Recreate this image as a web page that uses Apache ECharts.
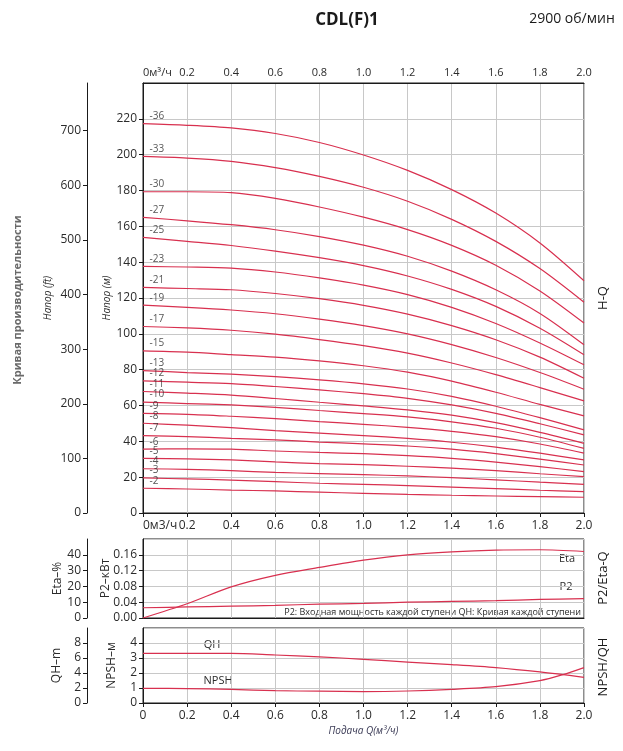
<!DOCTYPE html>
<html>
<head>
<meta charset="utf-8">
<script src="https://cdn.jsdelivr.net/npm/echarts@6.0.0/dist/echarts.min.js"></script>
<style>
  html, body { margin: 0; padding: 0; background: #fff; }
  #chart { width: 623px; height: 751px; }
</style>
</head>
<body>
<div id="chart"></div>
<script>
// подача, м3/ч
const flow = [0, 0.2, 0.4, 0.6, 0.8, 1.0, 1.2, 1.4, 1.6, 1.8, 2.0];
const stages = [2, 3, 4, 5, 6, 7, 8, 9, 10, 11, 12, 13, 15, 17, 19, 21, 23, 25, 27, 30, 33, 36];

// напор по числу ступеней, м
const h2 = [13.8, 13.4, 12.8, 12.3, 11.6, 11.0, 10.4, 9.9, 9.5, 9.1, 8.8];
const h3 = [19.6, 19.0, 18.4, 17.5, 16.6, 16.0, 15.3, 14.4, 13.6, 12.7, 11.9];
const h4 = [24.7, 24.4, 23.6, 22.7, 22.0, 21.4, 20.7, 19.7, 18.5, 17.2, 16.0];
const h5 = [30.5, 30.2, 29.6, 28.5, 27.6, 27.0, 26.1, 25.0, 23.6, 21.9, 20.3];
const h6 = [35.6, 35.8, 35.6, 34.6, 33.8, 33.1, 32.0, 30.5, 28.4, 25.9, 23.1];
const h7 = [43.2, 42.6, 41.7, 40.8, 39.6, 38.6, 37.4, 35.6, 33.1, 30.1, 26.8];
const h8 = [50.1, 49.0, 47.7, 46.0, 44.6, 43.2, 41.6, 39.5, 36.8, 33.4, 29.6];
const h9 = [55.6, 55.1, 54.0, 52.7, 51.0, 49.5, 47.8, 45.6, 42.6, 38.5, 33.4];
const h10 = [61.9, 61.1, 60.3, 59.0, 57.2, 55.5, 53.6, 50.9, 47.3, 42.3, 36.1];
const h11 = [67.8, 66.9, 65.8, 63.9, 61.8, 59.8, 57.6, 54.6, 50.4, 45.0, 38.9];
const h12 = [73.7, 73.0, 72.2, 70.6, 68.7, 66.6, 64.0, 60.3, 55.6, 49.8, 43.6];
const h13 = [79.5, 78.4, 77.5, 76.1, 74.3, 72.1, 69.2, 65.1, 59.6, 53.2, 46.4];
const h15 = [90.5, 89.8, 88.4, 87.0, 84.9, 82.2, 78.6, 73.6, 67.4, 60.6, 54.2];
const h17 = [104.1, 103.3, 102.0, 99.8, 96.8, 93.4, 89.2, 83.7, 77.2, 70.0, 62.6];
const h19 = [116.0, 114.8, 113.3, 111.2, 108.2, 104.6, 100.0, 94.0, 86.8, 78.4, 69.1];
const h21 = [125.9, 125.3, 124.6, 122.5, 119.6, 115.9, 111.0, 104.6, 96.7, 87.0, 75.2];
const h23 = [137.6, 137.3, 136.7, 134.5, 131.2, 127.2, 121.9, 114.8, 105.8, 94.9, 82.7];
const h25 = [153.8, 151.6, 149.3, 146.2, 142.5, 138.1, 132.3, 124.8, 115.3, 103.1, 88.3];
const h27 = [165.0, 163.1, 160.9, 158.1, 154.3, 149.5, 143.3, 135.0, 124.6, 111.4, 93.9];
const h30 = [179.3, 179.3, 178.8, 175.6, 170.8, 165.1, 158.2, 149.4, 138.3, 123.9, 106.0];
const h33 = [199.0, 198.1, 196.3, 192.8, 187.9, 181.8, 174.0, 163.9, 151.6, 136.4, 117.6];
const h36 = [217.3, 216.4, 214.9, 211.8, 206.8, 199.8, 191.2, 180.5, 167.4, 150.7, 129.6];

const heads = {
  2: h2, 3: h3, 4: h4, 5: h5, 6: h6, 7: h7, 8: h8, 9: h9, 10: h10, 11: h11, 12: h12,
  13: h13, 15: h15, 17: h17, 19: h19, 21: h21, 23: h23, 25: h25, 27: h27, 30: h30, 33: h33, 36: h36
};

// КПД, %, и мощность одной ступени, кВт
const eta = [0, 9.0, 19.7, 27.0, 32.0, 36.6, 40.0, 41.9, 43.0, 43.2, 42.1];
const p2 = [0.026, 0.028, 0.030, 0.032, 0.035, 0.037, 0.040, 0.042, 0.044, 0.047, 0.049];

// напор одной ступени, м, и NPSH, м
const qh = [6.62, 6.62, 6.62, 6.40, 6.16, 5.82, 5.46, 5.12, 4.72, 4.14, 3.42];
const npshFlow = [0, 0.2, 0.4, 0.6, 0.8, 1.0, 1.2, 1.4, 1.6, 1.8, 1.9, 2.0];
const npsh = [0.98, 0.96, 0.91, 0.82, 0.79, 0.76, 0.80, 0.91, 1.09, 1.49, 1.87, 2.36];

const FT_PER_M = 3.28084;
const feetTicks = [0, 100, 200, 300, 400, 500, 600, 700];

const RED = '#d8304f';
const GRID = '#c8c8c8';
const INK = '#2b2b2b';
const FONT = '"Open Sans", sans-serif';

const chart = echarts.init(document.getElementById('chart'));

const gridBox = {
  left: 143, right: 39, show: true, borderColor: '#1a1a1a', borderWidth: 1,
  containLabel: false, outerBoundsMode: 'none'
};

const axisBase = {
  axisLine: { show: true, onZero: false, lineStyle: { color: '#1a1a1a', width: 1 } },
  axisTick: { show: true, length: 4, lineStyle: { color: '#1a1a1a' } },
  axisLabel: { color: INK, fontSize: 12, fontFamily: FONT, margin: 6 },
  splitLine: { show: false },
  nameMoveOverlap: false,
  nameTextStyle: { color: INK, fontFamily: FONT, fontSize: 12 }
};

function xFmt(unit) {
  return v => (v === 0 ? '0' + unit : v.toFixed(1));
}

const xAxes = [
  Object.assign({}, axisBase, {
    type: 'value', gridIndex: 0, position: 'bottom', min: 0, max: 2, interval: 0.2,
    axisLabel: Object.assign({}, axisBase.axisLabel, {
      formatter: xFmt('м3/ч'), alignMinLabel: 'left', showMinLabel: true, margin: 7
    }),
    splitLine: { show: true, lineStyle: { color: GRID } }
  }),
  Object.assign({}, axisBase, {
    type: 'value', gridIndex: 0, position: 'top', min: 0, max: 2, interval: 0.2,
    axisTick: { show: false },
    axisLabel: Object.assign({}, axisBase.axisLabel, {
      formatter: xFmt('м³/ч'), alignMinLabel: 'left', showMinLabel: true, fontSize: 11, margin: 5
    })
  }),
  Object.assign({}, axisBase, {
    type: 'value', gridIndex: 1, min: 0, max: 2, interval: 0.2,
    axisTick: { show: false }, axisLabel: { show: false },
    splitLine: { show: true, lineStyle: { color: GRID } }
  }),
  Object.assign({}, axisBase, {
    type: 'value', gridIndex: 2, min: 0, max: 2, interval: 0.2,
    axisLabel: Object.assign({}, axisBase.axisLabel, {
      formatter: v => (v === 0 ? '0' : v.toFixed(1)), showMinLabel: true, margin: 7
    }),
    splitLine: { show: true, lineStyle: { color: GRID } },
    name: 'Подача Q(м³/ч)', nameLocation: 'middle', nameGap: 23,
    nameTextStyle: { color: '#3a3a55', fontFamily: FONT, fontSize: 10, fontStyle: 'italic' }
  })
];

const yAxes = [
  Object.assign({}, axisBase, {
    type: 'value', gridIndex: 0, position: 'left', min: 0, max: 240, interval: 20,
    axisLabel: Object.assign({}, axisBase.axisLabel, { showMaxLabel: false }),
    splitLine: { show: true, lineStyle: { color: GRID } },
    name: 'Напор (м)', nameLocation: 'middle', nameGap: 31,
    nameTextStyle: { color: INK, fontFamily: FONT, fontSize: 10, fontStyle: 'italic' }
  }),
  Object.assign({}, axisBase, {
    type: 'value', gridIndex: 0, position: 'left', min: 0, max: 240 * FT_PER_M, offset: 56,
    axisLabel: Object.assign({}, axisBase.axisLabel, { customValues: feetTicks }),
    axisTick: Object.assign({}, axisBase.axisTick, { customValues: feetTicks }),
    name: 'Напор (ft)', nameLocation: 'middle', nameGap: 34,
    nameTextStyle: { color: INK, fontFamily: FONT, fontSize: 10, fontStyle: 'italic' }
  }),
  Object.assign({}, axisBase, {
    type: 'value', gridIndex: 1, position: 'left', min: 0, max: 0.2, interval: 0.04,
    axisLabel: Object.assign({}, axisBase.axisLabel, { showMaxLabel: false, formatter: v => v.toFixed(2) }),
    splitLine: { show: true, lineStyle: { color: GRID } },
    name: 'P2–кВт', nameLocation: 'middle', nameGap: 31
  }),
  Object.assign({}, axisBase, {
    type: 'value', gridIndex: 1, position: 'left', min: 0, max: 50, interval: 10, offset: 56,
    axisLabel: Object.assign({}, axisBase.axisLabel, { showMaxLabel: false }),
    name: 'Eta–%', nameLocation: 'middle', nameGap: 23
  }),
  Object.assign({}, axisBase, {
    type: 'value', gridIndex: 2, position: 'left', min: 0, max: 5, interval: 1,
    axisLabel: Object.assign({}, axisBase.axisLabel, { showMaxLabel: false }),
    splitLine: { show: true, lineStyle: { color: GRID } },
    name: 'NPSH–м', nameLocation: 'middle', nameGap: 25
  }),
  Object.assign({}, axisBase, {
    type: 'value', gridIndex: 2, position: 'left', min: 0, max: 10, interval: 2, offset: 56,
    axisLabel: Object.assign({}, axisBase.axisLabel, { showMaxLabel: false }),
    name: 'QH–m', nameLocation: 'middle', nameGap: 24
  })
];

function curve(xs, ys, xi, yi) {
  return {
    type: 'line', xAxisIndex: xi, yAxisIndex: yi,
    data: xs.map((x, i) => [x, ys[i]]),
    smooth: 0.3, showSymbol: false, symbol: 'none', silent: true,
    lineStyle: { color: RED, width: 1.2 }, z: 3
  };
}

const series = stages.map(n => curve(flow, heads[n], 0, 0));

// подписи числа ступеней у начала каждой кривой
series.push({
  type: 'scatter', xAxisIndex: 0, yAxisIndex: 0, silent: true,
  symbolSize: 1, itemStyle: { color: 'rgba(0,0,0,0)' },
  data: stages.map(n => [0, heads[n][0], n]),
  label: {
    show: true, position: [7, -12], color: INK, fontSize: 10, fontFamily: FONT,
    formatter: p => '-' + p.data[2]
  },
  z: 4
});

series.push(curve(flow, eta, 2, 3));
series.push(curve(flow, p2, 2, 2));
series.push(curve(flow, qh, 3, 5));
series.push(curve(npshFlow, npsh, 3, 4));

function txt(x, y, text, opts) {
  return Object.assign({
    type: 'text', x: x, y: y,
    style: Object.assign({
      text: text, fill: INK, font: '12px ' + FONT,
      textAlign: 'center', textVerticalAlign: 'middle'
    }, (opts && opts.style) || {})
  }, (opts && opts.el) || {});
}

const graphics = [
  txt(347, 20, 'CDL(F)1', { style: { font: 'bold 17px ' + FONT, fill: '#1a1a1a' } }),
  txt(572, 19, '2900 об/мин', { style: { font: '14px ' + FONT, fill: '#1a1a1a' } }),
  txt(18, 300, 'Кривая производительности', { style: { font: 'bold 11px ' + FONT, fill: '#6a6a6a' }, el: { rotation: Math.PI / 2 } }),
  txt(603, 298, 'H-Q', { style: { font: '13px ' + FONT, fill: '#1a1a1a' }, el: { rotation: Math.PI / 2 } }),
  txt(603, 578, 'P2/Eta-Q', { style: { font: '13px ' + FONT, fill: '#1a1a1a' }, el: { rotation: Math.PI / 2 } }),
  txt(603, 667, 'NPSH/QH', { style: { font: '13px ' + FONT, fill: '#1a1a1a' }, el: { rotation: Math.PI / 2 } }),
  txt(567, 559, 'Eta', { style: { font: '11px ' + FONT } }),
  txt(566, 587, 'P2', { style: { font: '11px ' + FONT } }),
  txt(212, 645, 'QH', { style: { font: '11px ' + FONT } }),
  txt(218, 681, 'NPSH', { style: { font: '11px ' + FONT } }),
  txt(582, 612, 'P2: Входная мощность каждой ступени QH: Кривая каждой ступени', {
    style: { font: '9px ' + FONT, textAlign: 'right', backgroundColor: '#fff', padding: [1, 1, 0, 3] }
  })
];

const option = {
  animation: false,
  backgroundColor: '#fff',
  textStyle: { fontFamily: FONT },
  grid: [
    Object.assign({}, gridBox, { top: 83, height: 430 }),
    Object.assign({}, gridBox, { top: 539, height: 79 }),
    Object.assign({}, gridBox, { top: 628, height: 75 })
  ],
  xAxis: xAxes,
  yAxis: yAxes,
  series: series,
  graphic: graphics
};

chart.setOption(option);
</script>
</body>
</html>
